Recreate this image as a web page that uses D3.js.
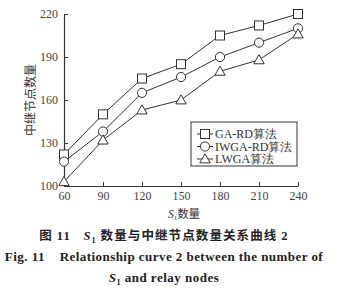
<!DOCTYPE html>
<html><head><meta charset="utf-8">
<script src="https://cdn.jsdelivr.net/npm/d3@7/dist/d3.min.js"></script>
<style>body{margin:0;background:#fff}svg{display:block}text{white-space:pre}</style>
</head><body>
<svg id="c" width="363" height="300"></svg>
<script>
const xValues = [60, 90, 120, 150, 180, 210, 240];
const gaRD = [122, 150, 175, 185, 205, 212, 220];
const iwgaRD = [117, 138, 165, 176, 190, 200, 210];
const lwga = [103, 132, 153, 160, 180, 188, 206];
const seriesNames = ["GA-RD算法", "IWGA-RD算法", "LWGA算法"];
const xTicks = [60, 90, 120, 150, 180, 210, 240];
const yTicks = [100, 130, 160, 190, 220];

const svg = d3.select("#c");
const ink = "#333";
const x = d3.scaleLinear().domain([60, 240]).range([64, 298]);
const y = d3.scaleLinear().domain([100, 220]).range([186, 14]);

const serif = "'Liberation Serif','DejaVu Serif',serif";
const cjk = "'Noto Sans CJK SC',sans-serif";

// axes
const xa = svg.append("g").attr("transform", "translate(0,186)")
  .call(d3.axisBottom(x).tickValues(xTicks).tickSizeInner(-4).tickSizeOuter(0).tickPadding(5));
const ya = svg.append("g").attr("transform", "translate(64,0)")
  .call(d3.axisLeft(y).tickValues(yTicks).tickSizeInner(-4).tickSizeOuter(0).tickPadding(6));
[xa, ya].forEach(a => {
  a.select(".domain").attr("stroke", ink).attr("stroke-width", 1.2);
  a.selectAll(".tick line").attr("stroke", ink);
  a.selectAll("text").attr("fill", "#444").style("font-family", serif).style("font-size", "12px");
});

const line = d3.line().x((d, i) => x(xValues[i])).y(d => y(d));
const all = [gaRD, iwgaRD, lwga];
const kinds = ["square", "circle", "triangle"];

function marker(g, kind, cx, cy) {
  if (kind === "square") {
    g.append("rect").attr("x", cx - 4.5).attr("y", cy - 4.5).attr("width", 9).attr("height", 9)
      .attr("fill", "#fff").attr("stroke", ink).attr("stroke-width", 1);
  } else if (kind === "circle") {
    g.append("circle").attr("cx", cx).attr("cy", cy).attr("r", 4.6)
      .attr("fill", "#fff").attr("stroke", ink).attr("stroke-width", 1);
  } else {
    const s = 5.2;
    g.append("path").attr("d", `M${cx},${cy - s}L${cx + s},${cy + s * 0.75}L${cx - s},${cy + s * 0.75}Z`)
      .attr("fill", "#fff").attr("stroke", ink).attr("stroke-width", 1);
  }
}

all.forEach((data, k) => {
  svg.append("path").attr("d", line(data)).attr("fill", "none").attr("stroke", ink).attr("stroke-width", 1);
  const g = svg.append("g");
  data.forEach((v, i) => marker(g, kinds[k], x(xValues[i]), y(v)));
});

// legend
svg.append("rect").attr("x", 191).attr("y", 122).attr("width", 106).attr("height", 44)
  .attr("fill", "#fff").attr("stroke", ink).attr("stroke-width", 1);
seriesNames.forEach((name, k) => {
  const ly = 134 + k * 12.5;
  const g = svg.append("g");
  g.append("line").attr("x1", 197).attr("x2", 213).attr("y1", ly).attr("y2", ly).attr("stroke", ink);
  marker(g, kinds[k], 205, ly);
  g.append("text").attr("x", 215).attr("y", ly + 4.2).attr("fill", ink)
    .style("font-family", serif).style("font-size", "12px").text(name);
});

// y title
svg.append("text").attr("transform", "translate(35,100) rotate(-90)").attr("text-anchor", "middle")
  .attr("fill", ink).style("font-family", cjk).style("font-size", "12px").text("中继节点数量");

// x title
const xt = svg.append("text").attr("x", 184).attr("y", 218).attr("text-anchor", "middle").attr("fill", ink)
  .style("font-size", "11.5px");
xt.append("tspan").style("font-family", serif).style("font-style", "italic").text("S");
xt.append("tspan").style("font-family", serif).style("font-size", "7px").attr("dy", 2).text("1");
xt.append("tspan").style("font-family", cjk).attr("dy", -2).text("数量");

// caption
const c1 = svg.append("text").attr("x", 164).attr("y", 240).attr("text-anchor", "middle").attr("fill", "#222")
  .style("font-size", "12.5px").style("font-weight", "bold").style("letter-spacing", "1.1px");
c1.append("tspan").style("font-family", cjk).text("图 ");
c1.append("tspan").style("font-family", serif).text("11   ");
c1.append("tspan").style("font-family", serif).style("font-style", "italic").text("S");
c1.append("tspan").style("font-family", serif).style("font-size", "8px").attr("dy", 3).text("1");
c1.append("tspan").style("font-family", cjk).attr("dy", -3).text(" 数量与中继节点数量关系曲线 ");
c1.append("tspan").style("font-family", serif).text("2");

svg.append("text").attr("x", 164).attr("y", 261).attr("text-anchor", "middle").attr("fill", "#222")
  .style("font-family", serif).style("font-size", "13px").style("font-weight", "bold").style("letter-spacing", "0.45px")
  .text("Fig. 11    Relationship curve 2 between the number of");

const c3 = svg.append("text").attr("x", 164).attr("y", 282).attr("text-anchor", "middle").attr("fill", "#222")
  .style("font-family", serif).style("font-size", "13px").style("font-weight", "bold").style("letter-spacing", "0.5px");
c3.append("tspan").style("font-style", "italic").text("S");
c3.append("tspan").style("font-size", "8px").attr("dy", 3).text("1");
c3.append("tspan").attr("dy", -3).text(" and relay nodes");
</script>
</body></html>
